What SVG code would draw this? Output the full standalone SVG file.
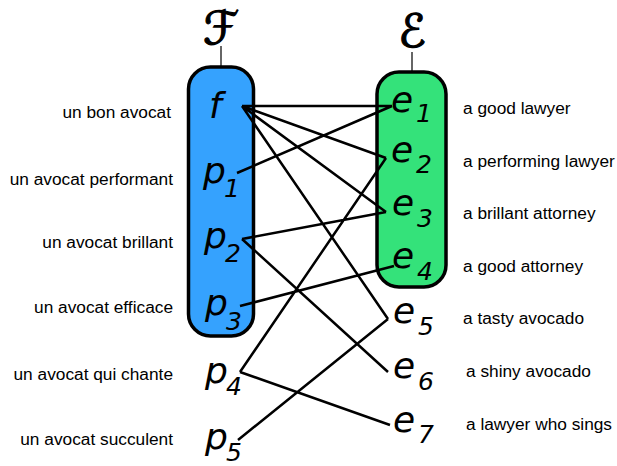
<svg xmlns="http://www.w3.org/2000/svg" width="617" height="466" viewBox="0 0 617 466">
<style>
.lbl{font-family:"Liberation Sans",Arial,sans-serif;font-size:17.3px;fill:#000}
.l{text-anchor:end}
.m{font-family:"DejaVu Sans",sans-serif;font-style:italic;font-size:36px;fill:#000}
.s{font-size:25px}
.cal{font-family:"DejaVu Sans",sans-serif;font-style:italic;font-size:46px;fill:#000;stroke:#000;stroke-width:1.2}
.tick{stroke:#333;stroke-width:1.5}
.cap{stroke:#000;stroke-width:3.5}
.edge{stroke:#000;stroke-width:2.5;fill:none}
</style>
<rect width="617" height="466" fill="#fff"/>
<g id="setF">
<line class="tick" x1="221" y1="46" x2="221" y2="66"/>
<text class="cal" x="221" y="44" text-anchor="middle">ℱ</text>
<rect class="cap" x="188.5" y="67" width="65" height="269" rx="22" fill="#35a2fe"/>
</g>
<g id="setE">
<line class="tick" x1="412" y1="52" x2="412" y2="72"/>
<text class="cal" x="412" y="47" text-anchor="middle">ℰ</text>
<rect class="cap" x="377" y="72" width="69" height="215" rx="22" fill="#34e27a"/>
</g>
<g id="connectors">
<path class="edge" d="M242,106 L392,106 M242,106 L386,158 M242,106 L386,212 M242,106 L388,319 M237,173 L392,106 M242,239 L386,212 M242,239 L388,372 M240,306 L394,266 M240,372 L386,158 M240,372 L390,425 M238,440 L388,319"/>
</g>
<g id="f"><text class="m" x="209" y="118" font-size="44">f</text><text class="lbl l" x="171" y="118">un bon avocat</text></g>
<g id="p1"><text class="m" x="203" y="183">p</text><text class="m s" x="224" y="197">1</text><text class="lbl l" x="173" y="185">un avocat performant</text></g>
<g id="p2"><text class="m" x="204" y="248">p</text><text class="m s" x="225" y="262">2</text><text class="lbl l" x="173" y="248">un avocat brillant</text></g>
<g id="p3"><text class="m" x="205" y="315">p</text><text class="m s" x="226" y="330">3</text><text class="lbl l" x="173" y="313">un avocat efficace</text></g>
<g id="p4"><text class="m" x="205" y="383">p</text><text class="m s" x="226" y="395">4</text><text class="lbl l" x="173" y="380">un avocat qui chante</text></g>
<g id="p5"><text class="m" x="205" y="449">p</text><text class="m s" x="226" y="461">5</text><text class="lbl l" x="173" y="445">un avocat succulent</text></g>
<g id="e1"><text class="m" x="391" y="112">e</text><text class="m s" x="416" y="122">1</text><text class="lbl" x="463" y="114">a good lawyer</text></g>
<g id="e2"><text class="m" x="391" y="162">e</text><text class="m s" x="416" y="173">2</text><text class="lbl" x="463" y="167">a performing lawyer</text></g>
<g id="e3"><text class="m" x="392" y="215">e</text><text class="m s" x="417" y="227">3</text><text class="lbl" x="463" y="219">a brillant attorney</text></g>
<g id="e4"><text class="m" x="392" y="268">e</text><text class="m s" x="417" y="280">4</text><text class="lbl" x="463" y="272">a good attorney</text></g>
<g id="e5"><text class="m" x="393" y="323">e</text><text class="m s" x="418" y="335">5</text><text class="lbl" x="463" y="324">a tasty avocado</text></g>
<g id="e6"><text class="m" x="393" y="378">e</text><text class="m s" x="418" y="390">6</text><text class="lbl" x="466" y="377">a shiny avocado</text></g>
<g id="e7"><text class="m" x="393" y="432">e</text><text class="m s" x="418" y="443">7</text><text class="lbl" x="466" y="430">a lawyer who sings</text></g>
</svg>
